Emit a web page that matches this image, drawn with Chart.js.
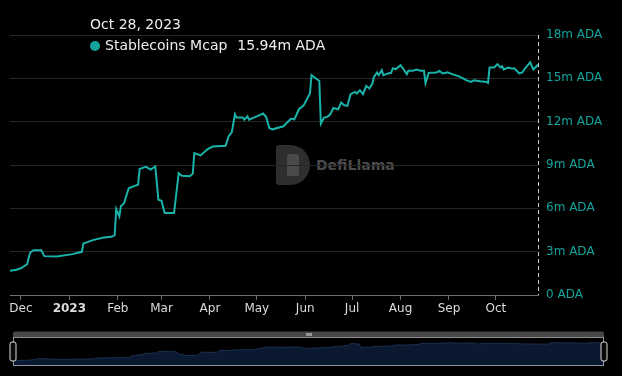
<!DOCTYPE html>
<html>
<head>
<meta charset="utf-8">
<script src="https://cdn.jsdelivr.net/npm/chart.js@4.4.1/dist/chart.umd.min.js"></script>
<style>
  html, body { margin: 0; padding: 0; background: #000; }
  #wrap { position: relative; width: 622px; height: 376px; overflow: hidden; background: #000; font-family: "DejaVu Sans", sans-serif; }
  #mainChart { position: absolute; left: 0; top: 0; z-index: 2; }
  #zoomChart { position: absolute; left: 0; top: 326px; z-index: 2; }
  .wm-logo { position: absolute; left: 276px; top: 145px; width: 34px; height: 40px; background: #2e2e2e; border-radius: 3px 20px 20px 3px; z-index: 1; }
  .wm-head { position: absolute; left: 11px; top: 9px; width: 12px; height: 22px; background: #4a4a4a; border-radius: 3px 3px 1px 1px; }
  .wm-text { position: absolute; left: 316px; top: 157px; font-weight: bold; font-size: 14px; color: #4b4b4b; z-index: 1; }
  .tip { position: absolute; left: 90px; color: #eee; font-size: 14px; z-index: 3; white-space: nowrap; }
  .tip .dot { display: inline-block; width: 10px; height: 10px; border-radius: 50%; background: #14a39c; margin-right: 5px; vertical-align: -1px; }
  .tip .val { margin-left: 10px; }
</style>
</head>
<body>
<div id="wrap">
  <div class="wm-logo"><div class="wm-head"></div></div>
  <div class="wm-text">DefiLlama</div>
  <div class="tip" id="tipDate" style="top:16px"></div>
  <div class="tip" id="tipSeries" style="top:37px"></div>
  <canvas id="mainChart" width="622" height="330"></canvas>
  <canvas id="zoomChart" width="622" height="50"></canvas>
</div>
<script>
// ---- data (Stablecoins Mcap on Cardano, millions of ADA) ----
const dates = [
  '2022-11-24','2022-11-28','2022-12-01','2022-12-05','2022-12-06','2022-12-07','2022-12-09','2022-12-14','2022-12-16','2022-12-24',
  '2023-01-03','2023-01-09','2023-01-10','2023-01-13','2023-01-16','2023-01-23','2023-01-28','2023-01-30','2023-01-31',
  '2023-02-02','2023-02-03','2023-02-05','2023-02-08','2023-02-14','2023-02-15','2023-02-19','2023-02-22','2023-02-25','2023-02-27',
  '2023-03-01','2023-03-03','2023-03-09','2023-03-12','2023-03-14','2023-03-19','2023-03-21','2023-03-22','2023-03-26','2023-03-30',
  '2023-04-01','2023-04-03','2023-04-11','2023-04-13','2023-04-15','2023-04-17','2023-04-18','2023-04-22','2023-04-23','2023-04-25','2023-04-26',
  '2023-05-01','2023-05-05','2023-05-07','2023-05-09','2023-05-11','2023-05-18','2023-05-23','2023-05-25','2023-05-28','2023-05-31',
  '2023-06-04','2023-06-05','2023-06-10','2023-06-11','2023-06-13','2023-06-15','2023-06-17','2023-06-19','2023-06-22','2023-06-24','2023-06-26','2023-06-28','2023-06-30',
  '2023-07-03','2023-07-04','2023-07-06','2023-07-08','2023-07-10','2023-07-12','2023-07-14','2023-07-15','2023-07-17','2023-07-18','2023-07-20','2023-07-21','2023-07-24','2023-07-26','2023-07-27','2023-07-29',
  '2023-08-01','2023-08-03','2023-08-05','2023-08-06','2023-08-09','2023-08-11','2023-08-14','2023-08-16','2023-08-17','2023-08-19','2023-08-24','2023-08-26','2023-08-28','2023-08-31',
  '2023-09-03','2023-09-07','2023-09-10','2023-09-12','2023-09-15','2023-09-17','2023-09-21','2023-09-25','2023-09-26','2023-09-27','2023-09-30',
  '2023-10-02','2023-10-04','2023-10-05','2023-10-06','2023-10-09','2023-10-11','2023-10-13','2023-10-16','2023-10-18','2023-10-20','2023-10-23','2023-10-25','2023-10-28'
];
const mcap = [
  1.67, 1.75, 1.85, 2.13, 2.6, 2.94, 3.1, 3.1, 2.69, 2.66,
  2.83, 2.99, 3.57, 3.68, 3.8, 3.98, 4.03, 4.15, 5.95,
  5.44, 6.14, 6.35, 7.39, 7.64, 8.73, 8.87, 8.69, 8.9, 6.6,
  6.53, 5.68, 5.68, 8.43, 8.25, 8.22, 8.39, 9.82, 9.66, 10.05,
  10.19, 10.28, 10.33, 11.0, 11.28, 12.51, 12.28, 12.28, 12.14, 12.37, 12.14,
  12.37, 12.56, 12.32, 11.56, 11.47, 11.68, 12.21, 12.16, 12.86, 13.13,
  13.95, 15.22, 14.82, 11.86, 12.28, 12.32, 12.51, 12.95, 12.86, 13.32, 13.13, 13.09, 13.9,
  14.06, 13.95, 14.18, 13.9, 14.48, 14.29, 14.64, 15.1, 15.41, 15.22, 15.57, 15.22, 15.34, 15.38, 15.68, 15.64,
  15.91, 15.61, 15.29, 15.52, 15.52, 15.61, 15.52, 15.52, 14.68, 15.38, 15.41, 15.52, 15.34, 15.41,
  15.29, 15.15, 15.0, 14.87, 14.75, 14.87, 14.8, 14.75, 14.68, 15.75, 15.75,
  15.98, 15.75, 15.84, 15.61, 15.75, 15.68, 15.68, 15.34, 15.41, 15.73, 16.1, 15.61, 15.94
];
const monthTicks = ['2022-12-01','2023-01-01','2023-02-01','2023-03-01','2023-04-01','2023-05-01','2023-06-01','2023-07-01','2023-08-01','2023-09-01','2023-10-01'];
const monthLabels = ['Dec','2023','Feb','Mar','Apr','May','Jun','Jul','Aug','Sep','Oct'];
const yTicks = [0, 3, 6, 9, 12, 15, 18];

const TEAL = '#14a39c';
const LINE = '#19b3aa';
const FONT = '"DejaVu Sans", sans-serif';

const toDay = s => Date.parse(s + 'T00:00:00Z') / 86400000;
const points = dates.map((d, i) => ({ x: toDay(d), y: mcap[i] }));
const tickDays = monthTicks.map(toDay);
const firstDay = points[0].x;
const lastDay = points[points.length - 1].x;

// header (hovered point = last point)
const MONTHS = ['Jan','Feb','Mar','Apr','May','Jun','Jul','Aug','Sep','Oct','Nov','Dec'];
const lastDate = new Date(dates[dates.length - 1] + 'T00:00:00Z');
document.getElementById('tipDate').textContent =
  MONTHS[lastDate.getUTCMonth()] + ' ' + lastDate.getUTCDate() + ', ' + lastDate.getUTCFullYear();
document.getElementById('tipSeries').innerHTML =
  '<span class="dot"></span>Stablecoins Mcap<span class="val">' + mcap[mcap.length - 1].toFixed(2) + 'm ADA</span>';

// dashed pointer line at the hovered (last) point
const pointerLine = {
  id: 'pointerLine',
  afterDatasetsDraw(chart) {
    const { ctx, chartArea, scales } = chart;
    const x = Math.round(scales.x.getPixelForValue(lastDay)) + 0.5;
    ctx.save();
    ctx.strokeStyle = '#d0d0d0';
    ctx.lineWidth = 1;
    ctx.setLineDash([4, 3]);
    ctx.beginPath();
    ctx.moveTo(x, chartArea.top);
    ctx.lineTo(x, chartArea.bottom);
    ctx.stroke();
    ctx.restore();
  }
};

new Chart(document.getElementById('mainChart'), {
  type: 'line',
  data: {
    datasets: [{
      label: 'Stablecoins Mcap',
      data: points,
      borderColor: LINE,
      borderWidth: 2,
      pointRadius: 0,
      tension: 0,
      fill: false
    }]
  },
  options: {
    responsive: false,
    animation: false,
    devicePixelRatio: 1,
    layout: { padding: { left: 10, top: 35, right: 0, bottom: 0 } },
    plugins: { legend: { display: false }, tooltip: { enabled: false } },
    scales: {
      x: {
        type: 'linear',
        min: firstDay,
        max: lastDay,
        afterBuildTicks: scale => { scale.ticks = tickDays.map(v => ({ value: v })); },
        afterFit: scale => { scale.height = 35; },
        border: { display: true, color: '#6e7079' },
        grid: { drawOnChartArea: false, drawTicks: true, tickLength: 5, color: '#6e7079' },
        ticks: {
          autoSkip: false,
          maxRotation: 0,
          padding: 2,
          color: '#dcdcdc',
          font: ctx => ({ family: FONT, size: 12, weight: ctx.index === 1 ? 'bold' : 'normal' }),
          callback: (value) => monthLabels[tickDays.indexOf(value)]
        }
      },
      y: {
        position: 'right',
        min: 0,
        max: 18,
        afterBuildTicks: scale => { scale.ticks = yTicks.map(v => ({ value: v })); },
        afterFit: scale => { scale.width = 84; },
        border: { display: false },
        grid: {
          drawTicks: false,
          color: ctx => (ctx.tick && ctx.tick.value === 0 ? 'rgba(0,0,0,0)' : '#262626')
        },
        ticks: {
          padding: 8,
          color: TEAL,
          font: { family: FONT, size: 12 },
          callback: v => (v === 0 ? '0 ADA' : v + 'm ADA')
        }
      }
    }
  },
  plugins: [pointerLine]
});

// ---- bottom data-zoom slider ----
const lo = Math.min(...mcap), hi = Math.max(...mcap);
const pad = (hi - lo) * 0.3;

const sliderDeco = {
  id: 'sliderDeco',
  beforeDraw(chart) {
    const { ctx, chartArea: a } = chart;
    ctx.save();
    ctx.fillStyle = '#474747';
    ctx.beginPath();
    ctx.roundRect(a.left, a.top - 5.5, a.right - a.left, 5.5, [2, 2, 0, 0]);
    ctx.fill();
    const cx = (a.left + a.right) / 2;
    ctx.fillStyle = '#e6e6e6';
    for (let i = -1; i <= 1; i++) ctx.fillRect(Math.round(cx + i * 2) - 0.5, a.top - 4, 1, 3);
    ctx.restore();
  },
  afterDraw(chart) {
    const { ctx, chartArea: a } = chart;
    ctx.save();
    ctx.strokeStyle = 'rgba(190,190,190,0.75)';
    ctx.lineWidth = 1;
    ctx.strokeRect(a.left + 0.5, a.top + 0.5, a.right - a.left - 1, a.bottom - a.top - 1);
    [a.left, a.right].forEach(x => {
      ctx.beginPath();
      ctx.roundRect(x - 3, a.top + 5, 6, 19, 2);
      ctx.fillStyle = '#0a0a0a';
      ctx.fill();
      ctx.strokeStyle = '#dadada';
      ctx.stroke();
    });
    ctx.restore();
  }
};

new Chart(document.getElementById('zoomChart'), {
  type: 'line',
  data: {
    datasets: [{
      data: points,
      borderColor: '#1c3050',
      borderWidth: 1,
      backgroundColor: '#0a1830',
      pointRadius: 0,
      tension: 0,
      fill: 'start'
    }]
  },
  options: {
    responsive: false,
    animation: false,
    devicePixelRatio: 1,
    layout: { padding: { left: 13, right: 18, top: 11, bottom: 10 } },
    plugins: { legend: { display: false }, tooltip: { enabled: false } },
    scales: {
      x: { type: 'linear', display: false, min: firstDay, max: lastDay },
      y: { display: false, min: lo - pad, max: hi + pad }
    }
  },
  plugins: [sliderDeco]
});
</script>
</body>
</html>
